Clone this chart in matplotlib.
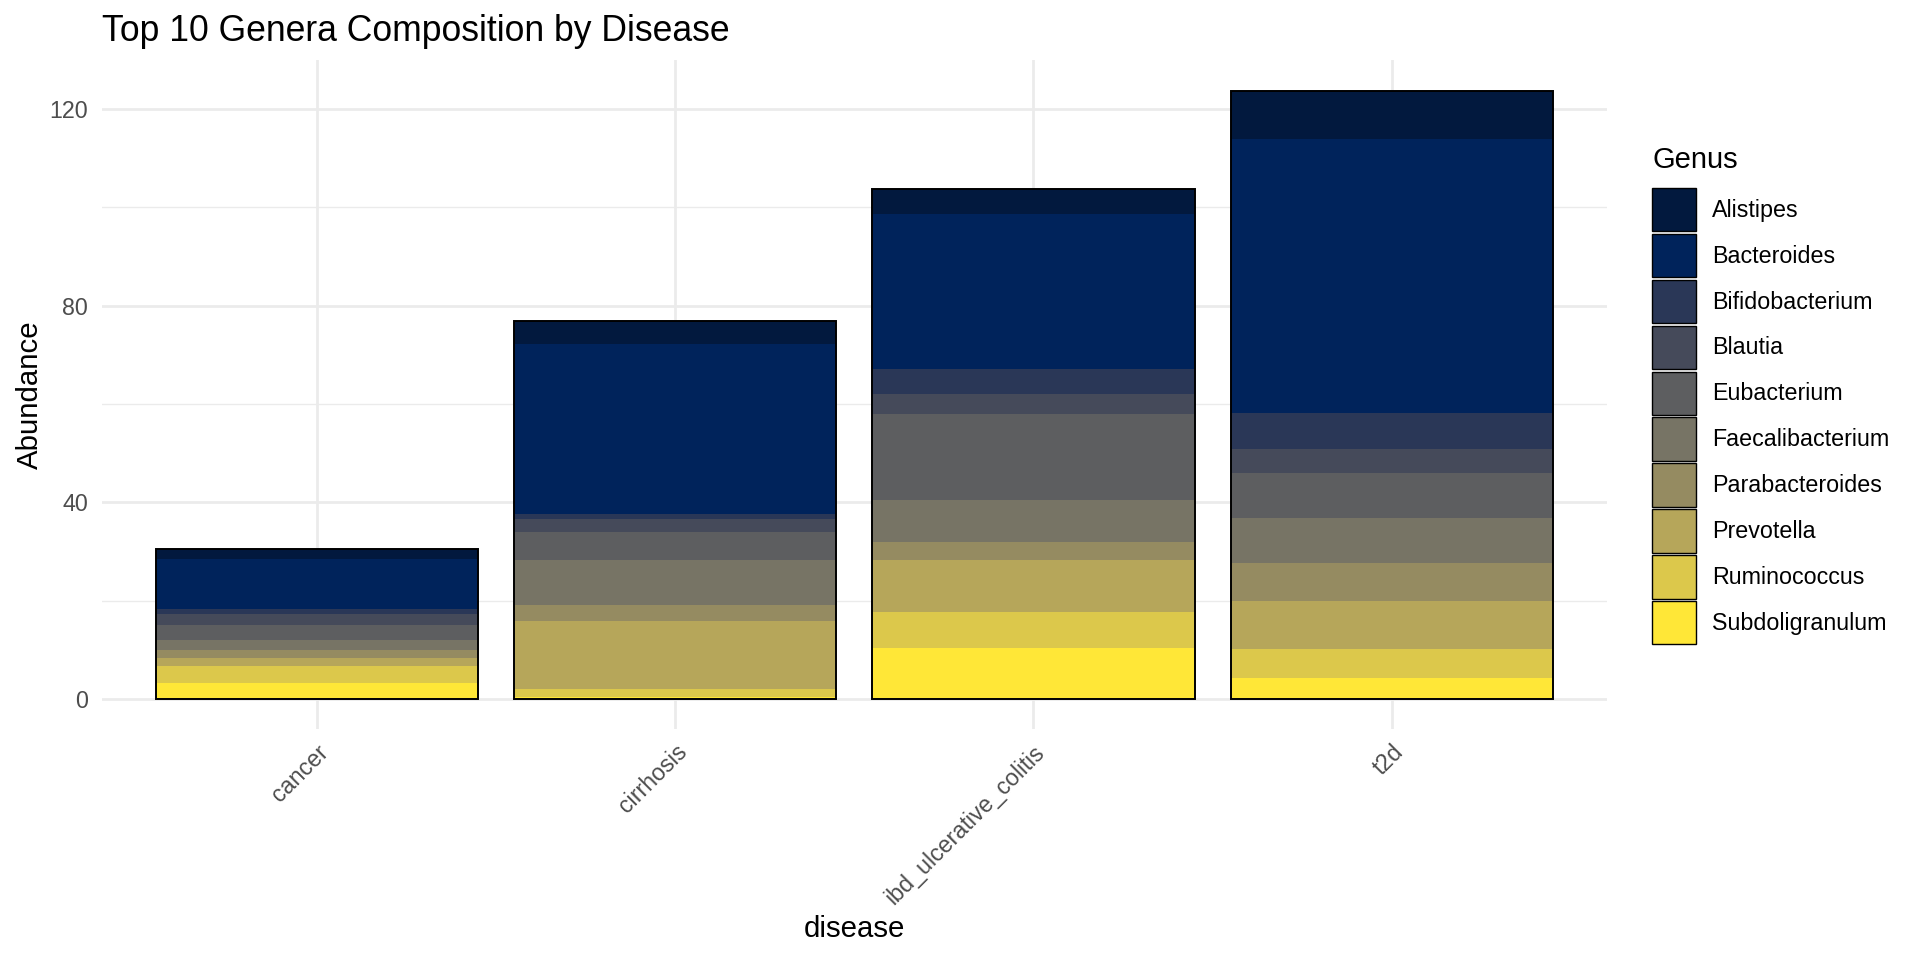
import numpy as np
import matplotlib
matplotlib.use("Agg")
import matplotlib.pyplot as plt
from matplotlib.patches import Patch

plt.rcParams['font.family'] = ['Liberation Sans', 'DejaVu Sans']

# 数据
diseases = ['cancer', 'cirrhosis', 'ibd_ulcerative_colitis', 't2d']
genera = ['Alistipes', 'Bacteroides', 'Bifidobacterium', 'Blautia', 'Eubacterium',
          'Faecalibacterium', 'Parabacteroides', 'Prevotella', 'Ruminococcus',
          'Subdoligranulum']
alistipes = [2.0, 4.5, 5.1, 9.8]
bacteroides = [10.2, 34.7, 31.5, 55.7]
bifidobacterium = [1.0, 1.0, 5.1, 7.4]
blautia = [2.3, 2.6, 4.1, 4.8]
eubacterium = [3.0, 5.7, 17.5, 9.1]
faecalibacterium = [2.1, 9.2, 8.5, 9.2]
parabacteroides = [1.6, 3.3, 3.6, 7.7]
prevotella = [1.6, 13.8, 10.6, 9.9]
ruminococcus = [3.4, 1.5, 7.3, 5.9]
subdoligranulum = [3.3, 0.5, 10.4, 4.2]

values = [alistipes, bacteroides, bifidobacterium, blautia, eubacterium,
          faecalibacterium, parabacteroides, prevotella, ruminococcus, subdoligranulum]
colors = ['#02193E', '#00235B', '#2A3757', '#454A5A', '#5D5E60',
          '#777465', '#958B61', '#B6A65A', '#DCC84B', '#FFE737']

fig = plt.figure(figsize=(9.6, 4.8), dpi=200)
ax = fig.add_axes([0.0530, 0.2402, 0.7839, 0.6969])

x = np.arange(len(diseases))
bottom = np.zeros(len(diseases))
# 从下往上堆叠：Subdoligranulum 在最下面
for name, vals, col in reversed(list(zip(genera, values, colors))):
    vals = np.array(vals)
    ax.bar(x, vals, bottom=bottom, width=0.9, color=col, edgecolor='none', zorder=2)
    bottom += vals

# 外框
ax.bar(x, bottom, width=0.9, fill=False, edgecolor='black', linewidth=0.7, zorder=3)

ymax = bottom.max()
ax.set_ylim(-0.05 * ymax, ymax * 1.05)
ax.set_xlim(-0.6, len(diseases) - 0.4)

ax.set_yticks([0, 40, 80, 120])
ax.set_yticks([20, 60, 100], minor=True)
ax.set_xticks(x)
ax.set_xticklabels(diseases, rotation=45, ha='right', va='top', rotation_mode='anchor')
ax.tick_params(axis='both', which='both', length=0, labelsize=8.4, labelcolor='#4D4D4D')
ax.tick_params(axis='x', pad=4)
ax.tick_params(axis='y', pad=5)

ax.grid(True, which='major', color='#EBEBEB', linewidth=1.0, zorder=0)
ax.grid(True, which='minor', axis='y', color='#EBEBEB', linewidth=0.5, zorder=0)
ax.set_axisbelow(True)
for s in ax.spines.values():
    s.set_visible(False)

ax.set_xlabel('disease', fontsize=10.6, labelpad=2.5)
ax.set_ylabel('Abundance', fontsize=10.6, labelpad=2)
ax.set_title('Top 10 Genera Composition by Disease', fontsize=12.8, loc='left', pad=7)

# 图例
handles = [Patch(facecolor=c, edgecolor='black', linewidth=0.5, label=g)
           for g, c in zip(genera, colors)]
fig.text(1652 / 1920, 1 - 168 / 960, 'Genus', fontsize=10.5, ha='left', va='baseline')
fig.legend(handles=handles, loc='upper left', bbox_to_anchor=(1652 / 1920, 1 - 188 / 960),
           frameon=False, fontsize=8.4, handlelength=1.89, handleheight=2.48,
           labelspacing=0.11, handletextpad=0.69, borderaxespad=0, borderpad=0)

fig.savefig('out.png', dpi=200)
